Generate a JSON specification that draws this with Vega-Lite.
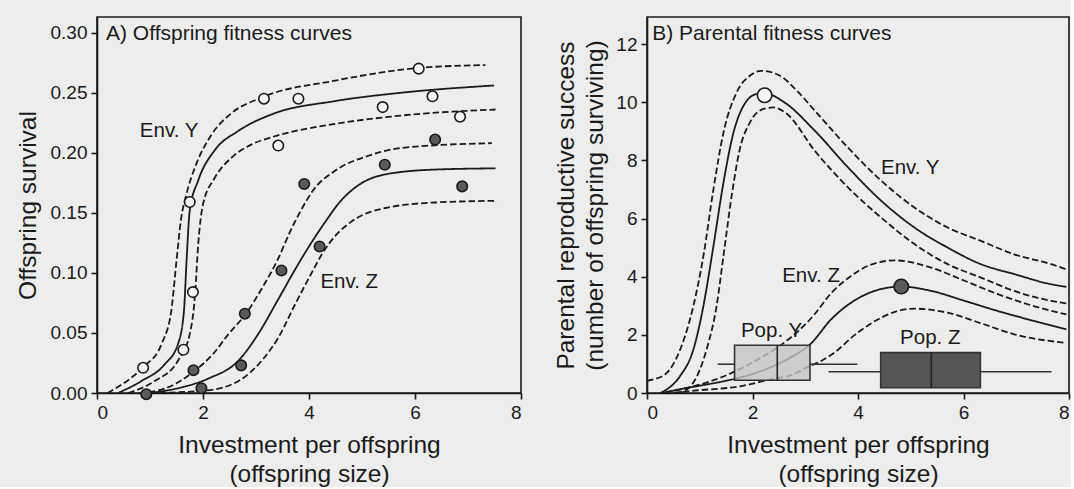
{
  "$schema": "https://vega.github.io/schema/vega-lite/v6.json",
  "background": "#ededed",
  "padding": {"left": 14, "top": 16, "right": 0, "bottom": 0},
  "bounds": "flush",
  "spacing": 126,
  "config": {
    "font": "Liberation Sans",
    "view": {"stroke": "#1a1a1a", "strokeWidth": 1.6},
    "axis": {"grid": false, "domainColor": "#1a1a1a", "domainWidth": 1.6, "tickColor": "#1a1a1a", "tickWidth": 1.6, "tickSize": 6, "labelFontSize": 19, "labelColor": "#1a1a1a", "labelPadding": 4, "titleFontSize": 24.5, "titleFontWeight": "normal", "titleColor": "#1a1a1a", "titleLineHeight": 29}
  },
  "datasets": {
    "curvesA": [
      {"curve":"Y_fit","band":"fit","x":0.40,"y":0},{"curve":"Y_fit","band":"fit","x":0.84,"y":0.010},{"curve":"Y_fit","band":"fit","x":1.28,"y":0.024},{"curve":"Y_fit","band":"fit","x":1.53,"y":0.041},{"curve":"Y_fit","band":"fit","x":1.64,"y":0.068},{"curve":"Y_fit","band":"fit","x":1.69,"y":0.11},{"curve":"Y_fit","band":"fit","x":1.75,"y":0.152},{"curve":"Y_fit","band":"fit","x":1.91,"y":0.177},{"curve":"Y_fit","band":"fit","x":2.22,"y":0.202},{"curve":"Y_fit","band":"fit","x":2.66,"y":0.218},{"curve":"Y_fit","band":"fit","x":3.3,"y":0.232},{"curve":"Y_fit","band":"fit","x":4.49,"y":0.243},{"curve":"Y_fit","band":"fit","x":5.75,"y":0.250},{"curve":"Y_fit","band":"fit","x":7.49,"y":0.256},
      {"curve":"Y_up","band":"upper","x":0.2,"y":0},{"curve":"Y_up","band":"upper","x":0.65,"y":0.0128},{"curve":"Y_up","band":"upper","x":0.90,"y":0.0225},{"curve":"Y_up","band":"upper","x":1.22,"y":0.041},{"curve":"Y_up","band":"upper","x":1.40,"y":0.068},{"curve":"Y_up","band":"upper","x":1.50,"y":0.11},{"curve":"Y_up","band":"upper","x":1.58,"y":0.143},{"curve":"Y_up","band":"upper","x":1.69,"y":0.166},{"curve":"Y_up","band":"upper","x":1.85,"y":0.188},{"curve":"Y_up","band":"upper","x":2.16,"y":0.215},{"curve":"Y_up","band":"upper","x":2.54,"y":0.233},{"curve":"Y_up","band":"upper","x":3.11,"y":0.246},{"curve":"Y_up","band":"upper","x":4.49,"y":0.26},{"curve":"Y_up","band":"upper","x":6.07,"y":0.2706},{"curve":"Y_up","band":"upper","x":7.33,"y":0.273},
      {"curve":"Y_lo","band":"lower","x":0.59,"y":0},{"curve":"Y_lo","band":"lower","x":1.09,"y":0.010},{"curve":"Y_lo","band":"lower","x":1.53,"y":0.027},{"curve":"Y_lo","band":"lower","x":1.75,"y":0.049},{"curve":"Y_lo","band":"lower","x":1.85,"y":0.082},{"curve":"Y_lo","band":"lower","x":1.91,"y":0.124},{"curve":"Y_lo","band":"lower","x":2.00,"y":0.157},{"curve":"Y_lo","band":"lower","x":2.22,"y":0.179},{"curve":"Y_lo","band":"lower","x":2.54,"y":0.196},{"curve":"Y_lo","band":"lower","x":2.92,"y":0.207},{"curve":"Y_lo","band":"lower","x":3.30,"y":0.213},{"curve":"Y_lo","band":"lower","x":4.49,"y":0.224},{"curve":"Y_lo","band":"lower","x":5.75,"y":0.231},{"curve":"Y_lo","band":"lower","x":7.52,"y":0.236},
      {"curve":"Z_fit","band":"fit","x":1.0,"y":0},{"curve":"Z_fit","band":"fit","x":1.53,"y":0.004},{"curve":"Z_fit","band":"fit","x":2.1,"y":0.012},{"curve":"Z_fit","band":"fit","x":2.67,"y":0.027},{"curve":"Z_fit","band":"fit","x":3.04,"y":0.049},{"curve":"Z_fit","band":"fit","x":3.42,"y":0.078},{"curve":"Z_fit","band":"fit","x":3.74,"y":0.103},{"curve":"Z_fit","band":"fit","x":4.0,"y":0.122},{"curve":"Z_fit","band":"fit","x":4.3,"y":0.142},{"curve":"Z_fit","band":"fit","x":4.6,"y":0.160},{"curve":"Z_fit","band":"fit","x":4.9,"y":0.172},{"curve":"Z_fit","band":"fit","x":5.44,"y":0.182},{"curve":"Z_fit","band":"fit","x":6.38,"y":0.186},{"curve":"Z_fit","band":"fit","x":7.52,"y":0.187},
      {"curve":"Z_up","band":"upper","x":0.8,"y":0},{"curve":"Z_up","band":"upper","x":1.3,"y":0.004},{"curve":"Z_up","band":"upper","x":1.83,"y":0.018},{"curve":"Z_up","band":"upper","x":2.2,"y":0.033},{"curve":"Z_up","band":"upper","x":2.48,"y":0.049},{"curve":"Z_up","band":"upper","x":2.81,"y":0.066},{"curve":"Z_up","band":"upper","x":3.11,"y":0.087},{"curve":"Z_up","band":"upper","x":3.42,"y":0.112},{"curve":"Z_up","band":"upper","x":3.65,"y":0.135},{"curve":"Z_up","band":"upper","x":3.86,"y":0.153},{"curve":"Z_up","band":"upper","x":4.1,"y":0.170},{"curve":"Z_up","band":"upper","x":4.49,"y":0.185},{"curve":"Z_up","band":"upper","x":5.12,"y":0.1975},{"curve":"Z_up","band":"upper","x":5.75,"y":0.204},{"curve":"Z_up","band":"upper","x":7.45,"y":0.208},
      {"curve":"Z_lo","band":"lower","x":1.0,"y":0},{"curve":"Z_lo","band":"lower","x":2.04,"y":0.002},{"curve":"Z_lo","band":"lower","x":2.67,"y":0.010},{"curve":"Z_lo","band":"lower","x":3.11,"y":0.027},{"curve":"Z_lo","band":"lower","x":3.42,"y":0.046},{"curve":"Z_lo","band":"lower","x":3.74,"y":0.074},{"curve":"Z_lo","band":"lower","x":4.05,"y":0.100},{"curve":"Z_lo","band":"lower","x":4.25,"y":0.116},{"curve":"Z_lo","band":"lower","x":4.5,"y":0.131},{"curve":"Z_lo","band":"lower","x":4.81,"y":0.143},{"curve":"Z_lo","band":"lower","x":5.44,"y":0.154},{"curve":"Z_lo","band":"lower","x":6.38,"y":0.1586},{"curve":"Z_lo","band":"lower","x":7.55,"y":0.160}
    ],
    "pointsA": [
      {"env":"Y","x":0.87,"y":0.021},{"env":"Y","x":1.63,"y":0.036},{"env":"Y","x":1.81,"y":0.084},{"env":"Y","x":1.75,"y":0.159},{"env":"Y","x":3.42,"y":0.206},{"env":"Y","x":3.15,"y":0.245},{"env":"Y","x":3.80,"y":0.245},{"env":"Y","x":5.39,"y":0.238},{"env":"Y","x":6.07,"y":0.270},{"env":"Y","x":6.33,"y":0.247},{"env":"Y","x":6.85,"y":0.230},
      {"env":"Z","x":0.93,"y":-0.001},{"env":"Z","x":1.82,"y":0.019},{"env":"Z","x":1.97,"y":0.004},{"env":"Z","x":2.72,"y":0.023},{"env":"Z","x":2.79,"y":0.066},{"env":"Z","x":3.48,"y":0.102},{"env":"Z","x":4.20,"y":0.122},{"env":"Z","x":3.91,"y":0.174},{"env":"Z","x":5.43,"y":0.190},{"env":"Z","x":6.38,"y":0.211},{"env":"Z","x":6.89,"y":0.172}
    ],
    "labelsA": [
      {"label":"Env. Y","x":1.36,"y":0.218},{"label":"Env. Z","x":4.76,"y":0.092}
    ],
    "titleA": [{"label":"A) Offspring fitness curves","x":0.17,"y":0.299}],
    "curvesB": [
      {"curve":"Y_fit","band":"fit","x":0.25,"y":0},{"curve":"Y_fit","band":"fit","x":0.38,"y":0.13},{"curve":"Y_fit","band":"fit","x":0.63,"y":0.59},{"curve":"Y_fit","band":"fit","x":0.88,"y":1.50},{"curve":"Y_fit","band":"fit","x":1.07,"y":3.0},{"curve":"Y_fit","band":"fit","x":1.26,"y":5.06},{"curve":"Y_fit","band":"fit","x":1.45,"y":7.24},{"curve":"Y_fit","band":"fit","x":1.64,"y":8.96},{"curve":"Y_fit","band":"fit","x":1.83,"y":9.88},{"curve":"Y_fit","band":"fit","x":2.08,"y":10.28},{"curve":"Y_fit","band":"fit","x":2.24,"y":10.3},{"curve":"Y_fit","band":"fit","x":2.6,"y":10.0},{"curve":"Y_fit","band":"fit","x":3.18,"y":9.02},{"curve":"Y_fit","band":"fit","x":3.81,"y":7.76},{"curve":"Y_fit","band":"fit","x":4.44,"y":6.61},{"curve":"Y_fit","band":"fit","x":5.07,"y":5.69},{"curve":"Y_fit","band":"fit","x":5.70,"y":5.0},{"curve":"Y_fit","band":"fit","x":6.33,"y":4.43},{"curve":"Y_fit","band":"fit","x":6.96,"y":4.09},{"curve":"Y_fit","band":"fit","x":7.66,"y":3.74},{"curve":"Y_fit","band":"fit","x":7.95,"y":3.65},
      {"curve":"Y_up","band":"upper","x":0,"y":0.42},{"curve":"Y_up","band":"upper","x":0.13,"y":0.47},{"curve":"Y_up","band":"upper","x":0.38,"y":0.70},{"curve":"Y_up","band":"upper","x":0.63,"y":1.50},{"curve":"Y_up","band":"upper","x":0.88,"y":3.0},{"curve":"Y_up","band":"upper","x":1.07,"y":4.72},{"curve":"Y_up","band":"upper","x":1.26,"y":7.01},{"curve":"Y_up","band":"upper","x":1.45,"y":8.96},{"curve":"Y_up","band":"upper","x":1.70,"y":10.34},{"curve":"Y_up","band":"upper","x":1.95,"y":10.91},{"curve":"Y_up","band":"upper","x":2.17,"y":11.08},{"curve":"Y_up","band":"upper","x":2.52,"y":10.91},{"curve":"Y_up","band":"upper","x":2.84,"y":10.4},{"curve":"Y_up","band":"upper","x":3.18,"y":9.71},{"curve":"Y_up","band":"upper","x":3.81,"y":8.44},{"curve":"Y_up","band":"upper","x":4.44,"y":7.30},{"curve":"Y_up","band":"upper","x":5.07,"y":6.38},{"curve":"Y_up","band":"upper","x":5.70,"y":5.69},{"curve":"Y_up","band":"upper","x":6.33,"y":5.23},{"curve":"Y_up","band":"upper","x":6.96,"y":4.77},{"curve":"Y_up","band":"upper","x":7.66,"y":4.43},{"curve":"Y_up","band":"upper","x":7.95,"y":4.25},
      {"curve":"Y_lo","band":"lower","x":0.55,"y":0},{"curve":"Y_lo","band":"lower","x":0.76,"y":0.13},{"curve":"Y_lo","band":"lower","x":0.95,"y":0.59},{"curve":"Y_lo","band":"lower","x":1.13,"y":1.50},{"curve":"Y_lo","band":"lower","x":1.32,"y":3.0},{"curve":"Y_lo","band":"lower","x":1.45,"y":4.72},{"curve":"Y_lo","band":"lower","x":1.61,"y":6.84},{"curve":"Y_lo","band":"lower","x":1.76,"y":8.39},{"curve":"Y_lo","band":"lower","x":1.95,"y":9.30},{"curve":"Y_lo","band":"lower","x":2.21,"y":9.77},{"curve":"Y_lo","band":"lower","x":2.40,"y":9.82},{"curve":"Y_lo","band":"lower","x":2.65,"y":9.6},{"curve":"Y_lo","band":"lower","x":3.18,"y":8.33},{"curve":"Y_lo","band":"lower","x":3.81,"y":7.07},{"curve":"Y_lo","band":"lower","x":4.44,"y":6.03},{"curve":"Y_lo","band":"lower","x":5.07,"y":5.12},{"curve":"Y_lo","band":"lower","x":5.70,"y":4.43},{"curve":"Y_lo","band":"lower","x":6.33,"y":3.97},{"curve":"Y_lo","band":"lower","x":6.96,"y":3.51},{"curve":"Y_lo","band":"lower","x":7.66,"y":3.17},{"curve":"Y_lo","band":"lower","x":7.95,"y":3.08},
      {"curve":"Z_fit","band":"fit","x":0.3,"y":0},{"curve":"Z_fit","band":"fit","x":0.6,"y":0.12},{"curve":"Z_fit","band":"fit","x":1.0,"y":0.25},{"curve":"Z_fit","band":"fit","x":1.47,"y":0.41},{"curve":"Z_fit","band":"fit","x":1.9,"y":0.6},{"curve":"Z_fit","band":"fit","x":2.4,"y":0.93},{"curve":"Z_fit","band":"fit","x":2.75,"y":1.25},{"curve":"Z_fit","band":"fit","x":3.08,"y":1.65},{"curve":"Z_fit","band":"fit","x":3.5,"y":2.55},{"curve":"Z_fit","band":"fit","x":4.1,"y":3.35},{"curve":"Z_fit","band":"fit","x":4.45,"y":3.58},{"curve":"Z_fit","band":"fit","x":4.82,"y":3.66},{"curve":"Z_fit","band":"fit","x":5.39,"y":3.51},{"curve":"Z_fit","band":"fit","x":6.02,"y":3.17},{"curve":"Z_fit","band":"fit","x":6.65,"y":2.82},{"curve":"Z_fit","band":"fit","x":7.33,"y":2.48},{"curve":"Z_fit","band":"fit","x":7.95,"y":2.19},
      {"curve":"Z_up","band":"upper","x":0.35,"y":0.02},{"curve":"Z_up","band":"upper","x":0.77,"y":0.18},{"curve":"Z_up","band":"upper","x":1.2,"y":0.4},{"curve":"Z_up","band":"upper","x":1.69,"y":0.76},{"curve":"Z_up","band":"upper","x":2.1,"y":1.15},{"curve":"Z_up","band":"upper","x":2.5,"y":1.6},{"curve":"Z_up","band":"upper","x":2.85,"y":2.1},{"curve":"Z_up","band":"upper","x":3.15,"y":2.65},{"curve":"Z_up","band":"upper","x":3.5,"y":3.45},{"curve":"Z_up","band":"upper","x":3.85,"y":4.0},{"curve":"Z_up","band":"upper","x":4.2,"y":4.38},{"curve":"Z_up","band":"upper","x":4.7,"y":4.56},{"curve":"Z_up","band":"upper","x":5.39,"y":4.31},{"curve":"Z_up","band":"upper","x":6.02,"y":3.86},{"curve":"Z_up","band":"upper","x":6.65,"y":3.40},{"curve":"Z_up","band":"upper","x":7.33,"y":2.99},{"curve":"Z_up","band":"upper","x":7.95,"y":2.70},
      {"curve":"Z_lo","band":"lower","x":0.5,"y":0},{"curve":"Z_lo","band":"lower","x":0.84,"y":0.07},{"curve":"Z_lo","band":"lower","x":1.79,"y":0.24},{"curve":"Z_lo","band":"lower","x":2.35,"y":0.47},{"curve":"Z_lo","band":"lower","x":2.74,"y":0.62},{"curve":"Z_lo","band":"lower","x":3.02,"y":0.87},{"curve":"Z_lo","band":"lower","x":3.3,"y":1.1},{"curve":"Z_lo","band":"lower","x":3.56,"y":1.4},{"curve":"Z_lo","band":"lower","x":3.94,"y":2.0},{"curve":"Z_lo","band":"lower","x":4.44,"y":2.59},{"curve":"Z_lo","band":"lower","x":4.75,"y":2.82},{"curve":"Z_lo","band":"lower","x":5.07,"y":2.9},{"curve":"Z_lo","band":"lower","x":5.70,"y":2.76},{"curve":"Z_lo","band":"lower","x":6.33,"y":2.4},{"curve":"Z_lo","band":"lower","x":6.96,"y":2.02},{"curve":"Z_lo","band":"lower","x":7.95,"y":1.72}
    ],
    "peaksB": [{"env":"Y","x":2.23,"y":10.24},{"env":"Z","x":4.82,"y":3.66}],
    "boxesB": [
      {"pop":"Y","lo":1.34,"q1":1.66,"med":2.47,"q3":3.09,"hi":3.99,"ylo":0.44,"yhi":1.64,"ymid":0.99},
      {"pop":"Z","lo":3.44,"q1":4.43,"med":5.39,"q3":6.32,"hi":7.67,"ylo":0.18,"yhi":1.39,"ymid":0.73}
    ],
    "labelsB": [
      {"label":"Env. Y","x":4.99,"y":7.73},{"label":"Env. Z","x":3.11,"y":4.02},{"label":"Pop. Y","x":2.36,"y":2.13},{"label":"Pop. Z","x":5.37,"y":1.88}
    ],
    "titleB": [{"label":"B) Parental fitness curves","x":0.1,"y":12.33}]
  },
  "hconcat": [
    {
      "width": 424,
      "height": 376,
      "encoding": {
        "x": {"field": "x", "type": "quantitative", "scale": {"domain": [0, 8], "nice": false}, "axis": {"values": [0, 2, 4, 6, 8], "title": ["Investment per offspring", "(offspring size)"], "titlePadding": 11}},
        "y": {"field": "y", "type": "quantitative", "scale": {"domain": [0, 0.313], "nice": false, "zero": false}, "axis": {"values": [0, 0.05, 0.1, 0.15, 0.2, 0.25, 0.3], "format": ".2f", "title": "Offspring survival", "titlePadding": 10}}
      },
      "layer": [
        {
          "data": {"name": "curvesA"},
          "mark": {"type": "line", "interpolate": "monotone", "strokeWidth": 1.8, "color": "#1a1a1a"},
          "encoding": {
            "detail": {"field": "curve", "type": "nominal"},
            "strokeDash": {"field": "band", "type": "nominal", "scale": {"domain": ["fit", "upper", "lower"], "range": [[1, 0], [6.5, 3], [6.5, 3]]}, "legend": null}
          }
        },
        {
          "data": {"name": "pointsA"},
          "mark": {"type": "circle", "size": 110, "stroke": "#1a1a1a", "strokeWidth": 1.6, "opacity": 1},
          "encoding": {
            "fill": {"field": "env", "type": "nominal", "scale": {"domain": ["Y", "Z"], "range": ["#f4f4f4", "#5a5a5a"]}, "legend": null}
          }
        },
        {
          "data": {"name": "labelsA"},
          "mark": {"type": "text", "fontSize": 20.5, "align": "center", "baseline": "middle", "color": "#1a1a1a"},
          "encoding": {"text": {"field": "label"}}
        },
        {
          "data": {"name": "titleA"},
          "mark": {"type": "text", "fontSize": 21, "align": "left", "baseline": "middle", "color": "#1a1a1a"},
          "encoding": {"text": {"field": "label"}}
        }
      ]
    },
    {
      "width": 422,
      "height": 376,
      "encoding": {
        "x": {"field": "x", "type": "quantitative", "scale": {"domain": [0, 8], "nice": false}, "axis": {"values": [0, 2, 4, 6, 8], "title": ["Investment per offspring", "(offspring size)"], "titlePadding": 11}},
        "y": {"field": "y", "type": "quantitative", "scale": {"domain": [0, 12.93], "nice": false, "zero": false}, "axis": {"values": [0, 2, 4, 6, 8, 10, 12], "title": ["Parental reproductive success", "(number of offspring surviving)"], "titlePadding": 8}}
      },
      "resolve": {"scale": {"fill": "independent", "fillOpacity": "independent"}},
      "layer": [
        {
          "data": {"name": "curvesB"},
          "mark": {"type": "line", "interpolate": "monotone", "strokeWidth": 1.8, "color": "#1a1a1a"},
          "encoding": {
            "detail": {"field": "curve", "type": "nominal"},
            "strokeDash": {"field": "band", "type": "nominal", "scale": {"domain": ["fit", "upper", "lower"], "range": [[1, 0], [6.5, 3], [6.5, 3]]}, "legend": null}
          }
        },
        {
          "data": {"name": "boxesB"},
          "mark": {"type": "rule", "color": "#333333", "strokeWidth": 1.6},
          "encoding": {"x": {"field": "lo", "type": "quantitative"}, "x2": {"field": "q1"}, "y": {"field": "ymid", "type": "quantitative"}}
        },
        {
          "data": {"name": "boxesB"},
          "mark": {"type": "rule", "color": "#333333", "strokeWidth": 1.6},
          "encoding": {"x": {"field": "q3", "type": "quantitative"}, "x2": {"field": "hi"}, "y": {"field": "ymid", "type": "quantitative"}}
        },
        {
          "data": {"name": "boxesB"},
          "mark": {"type": "rect", "stroke": "#333333", "strokeWidth": 1.6},
          "encoding": {
            "x": {"field": "q1", "type": "quantitative"}, "x2": {"field": "q3"},
            "y": {"field": "ylo", "type": "quantitative"}, "y2": {"field": "yhi"},
            "fill": {"field": "pop", "type": "nominal", "scale": {"domain": ["Y", "Z"], "range": ["#c4c4c4", "#555555"]}, "legend": null},
            "fillOpacity": {"field": "pop", "type": "nominal", "scale": {"domain": ["Y", "Z"], "range": [0.8, 1]}, "legend": null}
          }
        },
        {
          "data": {"name": "boxesB"},
          "mark": {"type": "rule", "color": "#222222", "strokeWidth": 1.6},
          "encoding": {"x": {"field": "med", "type": "quantitative"}, "y": {"field": "ylo", "type": "quantitative"}, "y2": {"field": "yhi"}}
        },
        {
          "data": {"name": "peaksB"},
          "mark": {"type": "circle", "size": 210, "stroke": "#1a1a1a", "strokeWidth": 1.6, "opacity": 1},
          "encoding": {
            "fill": {"field": "env", "type": "nominal", "scale": {"domain": ["Y", "Z"], "range": ["#f6f6f6", "#5a5a5a"]}, "legend": null}
          }
        },
        {
          "data": {"name": "labelsB"},
          "mark": {"type": "text", "fontSize": 20.5, "align": "center", "baseline": "middle", "color": "#1a1a1a"},
          "encoding": {"text": {"field": "label"}}
        },
        {
          "data": {"name": "titleB"},
          "mark": {"type": "text", "fontSize": 21, "align": "left", "baseline": "middle", "color": "#1a1a1a"},
          "encoding": {"text": {"field": "label"}}
        }
      ]
    }
  ],
  "resolve": {"scale": {"fill": "independent", "strokeDash": "independent"}}
}
